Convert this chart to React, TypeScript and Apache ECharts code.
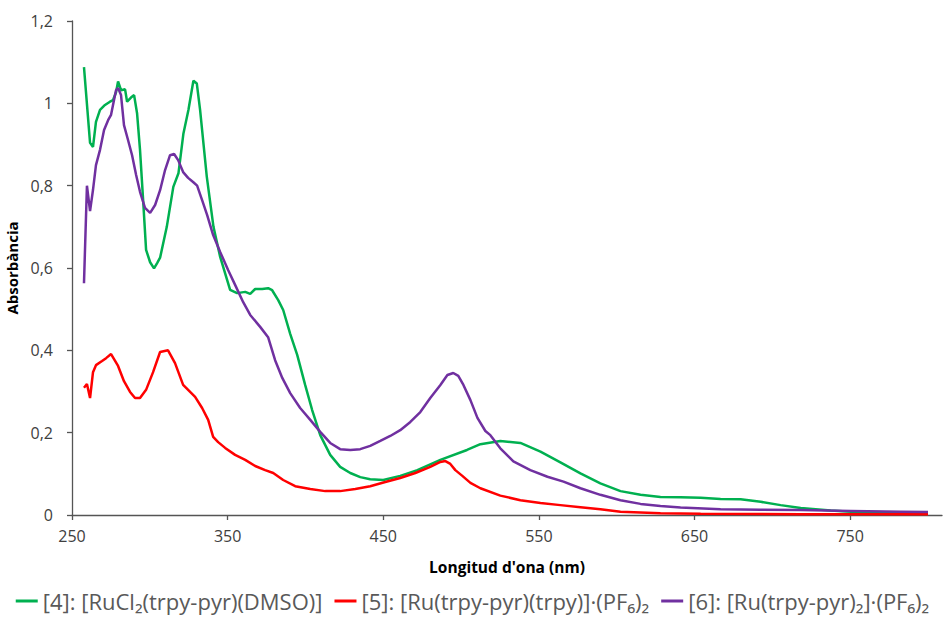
import React, { useEffect, useRef } from "react";
import * as echarts from "echarts";

// Wavelength (nm) and absorbance
const wl4 = [257.7, 261.6, 263.5, 265.4, 268.0, 271.2, 274.4, 276.4, 278.3, 279.6, 281.5, 284.1, 285.4, 287.9, 289.9, 291.8, 293.7, 295.7, 297.6, 300.2, 302.7, 304.7, 306.6, 310.9, 315.1, 318.4, 321.6, 324.8, 328.0, 330.2, 332.3, 336.6, 340.9, 345.2, 351.6, 356.1, 361.3, 364.5, 367.7, 372.2, 376.0, 378.6, 382.5, 385.7, 390.2, 394.7, 399.8, 404.3, 409.5, 415.9, 422.3, 428.8, 435.2, 441.6, 450.0, 460.9, 471.9, 486.7, 503.8, 512.4, 525.2, 538.1, 551.0, 563.8, 576.7, 589.5, 602.4, 615.3, 628.1, 641.0, 653.9, 666.7, 679.6, 692.5, 705.3, 718.2, 737.5, 750.3, 782.5, 800];
const abs4 = [1.088, 0.904, 0.894, 0.955, 0.984, 0.996, 1.004, 1.008, 1.027, 1.053, 1.032, 1.034, 1.004, 1.014, 1.02, 0.976, 0.887, 0.765, 0.644, 0.614, 0.599, 0.612, 0.625, 0.70, 0.797, 0.83, 0.927, 0.984, 1.055, 1.048, 0.984, 0.822, 0.70, 0.627, 0.547, 0.539, 0.542, 0.537, 0.549, 0.549, 0.551, 0.546, 0.522, 0.498, 0.44, 0.389, 0.316, 0.255, 0.194, 0.146, 0.117, 0.102, 0.092, 0.087, 0.085, 0.095, 0.109, 0.134, 0.158, 0.172, 0.180, 0.175, 0.154, 0.128, 0.101, 0.077, 0.058, 0.049, 0.044, 0.043, 0.042, 0.039, 0.038, 0.032, 0.024, 0.017, 0.011, 0.008, 0.006, 0.006];

const wl5 = [257.7, 259.6, 261.6, 263.5, 265.4, 269.3, 271.9, 275.1, 279.6, 283.4, 287.3, 290.5, 293.7, 297.6, 302.1, 306.6, 311.7, 316.2, 321.4, 325.9, 329.1, 333.6, 337.5, 340.7, 343.9, 348.4, 354.8, 361.3, 367.7, 374.1, 379.3, 385.7, 393.4, 403.1, 412.7, 422.3, 432.0, 441.6, 451.3, 460.9, 470.6, 480.2, 486.7, 489.9, 493.1, 496.3, 500.8, 506.0, 512.4, 525.2, 538.1, 551.0, 563.8, 576.7, 589.5, 602.4, 615.3, 628.1, 653.9, 718.2, 800];
const abs5 = [0.309, 0.318, 0.284, 0.347, 0.364, 0.374, 0.381, 0.391, 0.362, 0.325, 0.299, 0.284, 0.284, 0.304, 0.347, 0.396, 0.40, 0.369, 0.316, 0.299, 0.287, 0.26, 0.231, 0.19, 0.177, 0.163, 0.146, 0.134, 0.119, 0.109, 0.102, 0.085, 0.07, 0.063, 0.058, 0.058, 0.063, 0.07, 0.08, 0.09, 0.102, 0.117, 0.129, 0.131, 0.124, 0.109, 0.095, 0.078, 0.065, 0.047, 0.036, 0.029, 0.024, 0.019, 0.014, 0.008, 0.006, 0.004, 0.003, 0.002, 0.002];

const wl6 = [257.7, 259.6, 261.6, 263.5, 265.4, 268.0, 270.6, 273.2, 275.1, 277.0, 278.3, 279.6, 281.5, 283.4, 286.0, 288.6, 291.2, 293.7, 296.9, 300.2, 303.4, 306.6, 309.8, 313.0, 315.6, 318.2, 321.4, 324.6, 327.8, 330.4, 333.6, 336.8, 340.7, 345.2, 350.3, 354.8, 360.0, 364.5, 370.9, 376.0, 380.5, 385.1, 390.2, 396.6, 403.1, 409.5, 415.9, 422.3, 428.8, 435.2, 441.6, 448.1, 454.5, 460.9, 467.4, 473.8, 480.2, 486.7, 491.2, 495.0, 498.2, 501.5, 506.0, 510.5, 515.6, 518.8, 525.2, 533.6, 544.5, 555.5, 565.8, 576.7, 589.5, 602.4, 615.3, 628.1, 641.0, 666.7, 692.5, 718.2, 750.3, 782.5, 800];
const abs6 = [0.563, 0.80, 0.738, 0.79, 0.85, 0.887, 0.935, 0.959, 0.972, 1.008, 1.032, 1.037, 1.02, 0.947, 0.911, 0.874, 0.826, 0.785, 0.746, 0.734, 0.753, 0.789, 0.838, 0.874, 0.877, 0.862, 0.833, 0.819, 0.809, 0.80, 0.765, 0.729, 0.68, 0.639, 0.595, 0.559, 0.517, 0.486, 0.457, 0.432, 0.376, 0.333, 0.296, 0.26, 0.231, 0.202, 0.175, 0.16, 0.158, 0.16, 0.168, 0.18, 0.192, 0.206, 0.226, 0.25, 0.284, 0.316, 0.34, 0.345, 0.338, 0.316, 0.279, 0.236, 0.204, 0.194, 0.162, 0.13, 0.109, 0.093, 0.081, 0.065, 0.049, 0.036, 0.027, 0.022, 0.018, 0.014, 0.013, 0.012, 0.010, 0.008, 0.007];

const seriesNames = [
  "[4]: [RuCl₂(trpy-pyr)(DMSO)]",
  "[5]: [Ru(trpy-pyr)(trpy)]·(PF₆)₂",
  "[6]: [Ru(trpy-pyr)₂]·(PF₆)₂",
];
const seriesColors = ["#00B050", "#FF0000", "#7030A0"];
const xTicks = [250, 350, 450, 550, 650, 750];

const zip = (xs: number[], ys: number[]) => xs.map((x, i) => [x, ys[i]]);

export default function App() {
  const ref = useRef<HTMLDivElement>(null);
  useEffect(() => {
    if (!ref.current) return;
    const chart = echarts.init(ref.current, undefined, { renderer: "svg" });
    const font = "Open Sans";
    const datasets = [zip(wl4, abs4), zip(wl5, abs5), zip(wl6, abs6)];
    chart.setOption({
      animation: false,
      textStyle: { fontFamily: font },
      grid: { left: 72, right: 3, top: 21, bottom: 107, containLabel: false, outerBoundsMode: "none" },
      legend: {
        top: 590,
        left: "center",
        padding: 0,
        itemWidth: 22,
        itemHeight: 3,
        itemGap: 12,
        textStyle: { fontFamily: font, fontSize: 22, color: "#595959" },
        data: seriesNames.map((n) => ({ name: n, icon: "rect" })),
      },
      xAxis: {
        type: "value",
        min: 250,
        max: 809,
        interval: 100,
        name: "Longitud d'ona (nm)",
        nameLocation: "middle",
        nameGap: 44,
        nameTextStyle: { fontFamily: font, fontSize: 15.5, fontWeight: "bold", color: "#000" },
        axisLine: { show: true, onZero: false, lineStyle: { color: "#555", width: 1.3 } },
        axisTick: { show: true, length: 5, customValues: xTicks, lineStyle: { color: "#555", width: 1.3 } },
        axisLabel: {
          customValues: xTicks,
          fontSize: 16,
          color: "#404040",
          margin: 13,
          formatter: (v: number) => (xTicks.includes(v) ? String(v) : ""),
        },
        splitLine: { show: false },
      },
      yAxis: {
        type: "value",
        min: 0,
        max: 1.2,
        interval: 0.2,
        name: "Absorbància",
        nameLocation: "middle",
        nameGap: 46,
        nameTextStyle: { fontFamily: font, fontSize: 15, fontWeight: "bold", color: "#000" },
        axisLine: { show: true, lineStyle: { color: "#555", width: 1.3 } },
        axisTick: { show: true, length: 5, lineStyle: { color: "#555", width: 1.3 } },
        axisLabel: {
          fontSize: 16,
          color: "#404040",
          margin: 19,
          formatter: (v: number) => String(Math.round(v * 10) / 10).replace(".", ","),
        },
        splitLine: { show: false },
      },
      series: datasets.map((d, i) => ({
        name: seriesNames[i],
        type: "line",
        data: d,
        symbol: "none",
        showSymbol: false,
        smooth: false,
        lineStyle: { color: seriesColors[i], width: 2.5 },
        itemStyle: { color: seriesColors[i] },
      })),
    });
    return () => chart.dispose();
  }, []);
  return (
    <div
      ref={ref}
      style={{ position: "absolute", left: 0, top: 0, width: 945, height: 622 }}
    />
  );
}
